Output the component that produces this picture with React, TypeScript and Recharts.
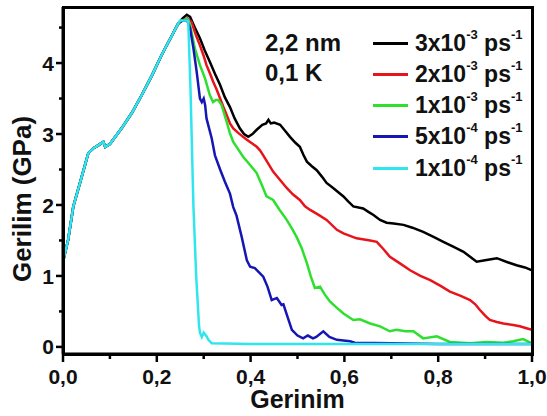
import { Legend, Line, LineChart, XAxis, YAxis } from "recharts";

type Pt = [number, number];

// shared loading branch (all rates overlap up to the peak)
const rise: Pt[] = [
  [0, 1.2], [0.011, 1.51], [0.022, 1.98], [0.04, 2.4], [0.054, 2.73], [0.065, 2.8],
  [0.075, 2.84], [0.086, 2.89], [0.09, 2.82], [0.1, 2.86], [0.125, 3.08], [0.147, 3.3],
  [0.168, 3.55], [0.19, 3.83], [0.21, 4.11], [0.23, 4.36], [0.246, 4.56],
];

const black: Pt[] = [
  [0.255, 4.63], [0.264, 4.68], [0.271, 4.65], [0.281, 4.5], [0.292, 4.35], [0.302, 4.18],
  [0.313, 4.02], [0.324, 3.85], [0.335, 3.69], [0.345, 3.52], [0.356, 3.38], [0.366, 3.22],
  [0.377, 3.08], [0.386, 3.0], [0.395, 2.96], [0.404, 3.0], [0.413, 3.06], [0.425, 3.13],
  [0.433, 3.15], [0.438, 3.2], [0.443, 3.15], [0.45, 3.16], [0.463, 3.13], [0.473, 3.05],
  [0.484, 2.96], [0.495, 2.88], [0.505, 2.82], [0.513, 2.7], [0.52, 2.61], [0.53, 2.55],
  [0.541, 2.49], [0.552, 2.4], [0.562, 2.31], [0.576, 2.24], [0.587, 2.18], [0.598, 2.12],
  [0.608, 2.05], [0.619, 1.98], [0.64, 1.95], [0.652, 1.9], [0.662, 1.86], [0.676, 1.79],
  [0.69, 1.75], [0.705, 1.74], [0.726, 1.72], [0.745, 1.68], [0.768, 1.62], [0.79, 1.55],
  [0.811, 1.48], [0.833, 1.41], [0.854, 1.34], [0.868, 1.27], [0.882, 1.2], [0.9, 1.22],
  [0.925, 1.25], [0.945, 1.2], [0.967, 1.15], [0.985, 1.12], [1.0, 1.08],
];

const red: Pt[] = [
  [0.255, 4.6], [0.265, 4.63], [0.274, 4.58], [0.283, 4.4], [0.292, 4.25], [0.3, 4.1],
  [0.306, 3.97], [0.313, 3.86], [0.32, 3.74], [0.328, 3.62], [0.335, 3.5], [0.342, 3.38],
  [0.349, 3.27], [0.356, 3.15], [0.363, 3.08], [0.373, 3.02], [0.384, 2.96], [0.392, 2.92],
  [0.405, 2.86], [0.413, 2.82], [0.42, 2.77], [0.427, 2.7], [0.438, 2.58], [0.448, 2.47],
  [0.462, 2.36], [0.477, 2.24], [0.49, 2.15], [0.505, 2.07], [0.516, 1.98], [0.527, 1.93],
  [0.545, 1.86], [0.562, 1.79], [0.584, 1.65], [0.598, 1.6], [0.626, 1.53], [0.655, 1.5],
  [0.669, 1.48], [0.683, 1.38], [0.697, 1.27], [0.72, 1.17], [0.74, 1.08], [0.762, 1.0],
  [0.783, 0.94], [0.805, 0.86], [0.825, 0.78], [0.848, 0.72], [0.868, 0.66], [0.879, 0.6],
  [0.889, 0.52], [0.9, 0.44], [0.91, 0.38], [0.925, 0.35], [0.939, 0.33], [0.96, 0.31],
  [0.974, 0.29], [0.99, 0.26], [1.0, 0.24],
];

const green: Pt[] = [
  [0.255, 4.6], [0.265, 4.62], [0.271, 4.54], [0.281, 4.21], [0.292, 3.97], [0.303, 3.78],
  [0.313, 3.55], [0.32, 3.45], [0.326, 3.48], [0.331, 3.48], [0.338, 3.41], [0.349, 3.17],
  [0.356, 3.01], [0.363, 2.89], [0.374, 2.78], [0.384, 2.68], [0.398, 2.57], [0.413, 2.45],
  [0.424, 2.28], [0.434, 2.12], [0.448, 2.07], [0.462, 1.93], [0.477, 1.79], [0.488, 1.67],
  [0.498, 1.55], [0.509, 1.39], [0.52, 1.18], [0.528, 1.0], [0.537, 0.83], [0.548, 0.85],
  [0.558, 0.74], [0.569, 0.64], [0.584, 0.55], [0.598, 0.47], [0.619, 0.38], [0.633, 0.39],
  [0.655, 0.33], [0.676, 0.29], [0.697, 0.22], [0.711, 0.24], [0.73, 0.22], [0.747, 0.22],
  [0.768, 0.12], [0.797, 0.15], [0.825, 0.07], [0.868, 0.05], [0.903, 0.07], [0.939, 0.06],
  [0.96, 0.08], [0.981, 0.11], [1.0, 0.05],
];

const blue: Pt[] = [
  [0.255, 4.6], [0.265, 4.6], [0.271, 4.49], [0.278, 4.21], [0.285, 3.88], [0.292, 3.5],
  [0.296, 3.45], [0.3, 3.5], [0.303, 3.41], [0.306, 3.22], [0.317, 2.94], [0.324, 2.7],
  [0.335, 2.5], [0.345, 2.33], [0.356, 2.16], [0.363, 1.97], [0.37, 1.85], [0.381, 1.55],
  [0.392, 1.22], [0.399, 1.13], [0.409, 1.11], [0.418, 1.05], [0.427, 0.99], [0.436, 0.85],
  [0.445, 0.66], [0.456, 0.69], [0.466, 0.59], [0.47, 0.6], [0.48, 0.4], [0.488, 0.24],
  [0.5, 0.16], [0.512, 0.12], [0.522, 0.16], [0.533, 0.12], [0.54, 0.14], [0.555, 0.22],
  [0.568, 0.14], [0.584, 0.1], [0.612, 0.08], [0.622, 0.06], [0.7, 0.05], [0.8, 0.04],
  [1.0, 0.04],
];

const cyan: Pt[] = [
  [0.25, 4.6], [0.267, 4.6], [0.272, 3.6], [0.278, 2.0], [0.284, 1.0], [0.29, 0.3],
  [0.292, 0.2], [0.296, 0.14], [0.3, 0.2], [0.306, 0.15], [0.31, 0.1], [0.317, 0.05],
  [0.4, 0.04], [1.0, 0.04],
];

const rateMantissa = ["3x10", "2x10", "1x10", "5x10", "1x10"];
const rateExponent = ["-3", "-3", "-3", "-4", "-4"];
const colors = ["#000000", "#e8141b", "#2ee02e", "#1616b4", "#30e6ee"];
const seriesPts = [black, red, green, blue, cyan];

const xTicks = [0, 0.1, 0.2, 0.3, 0.4, 0.5, 0.6, 0.7, 0.8, 0.9, 1.0];
const yTicks = [0, 0.5, 1, 1.5, 2, 2.5, 3, 3.5, 4, 4.5];
const X_DOMAIN: [number, number] = [0, 1];
const Y_DOMAIN: [number, number] = [-0.1, 4.79];

const CHART_W = 547;
const CHART_H = 416;
const TOP = 7;
const RIGHT = 15;
const Y_AXIS_W = 63;
const X_AXIS_H = 62;
const FONT = "'Liberation Sans', Arial, sans-serif";

const toRows = (pts: Pt[]) => [...rise, ...pts].map(([x, y]) => ({ x, y }));

const YTick = (props: any) => {
  const { x, y, payload } = props;
  const v = payload.value as number;
  const major = Math.abs(v - Math.round(v)) < 1e-6;
  return (
    <g>
      <line x1={x - (major ? 7 : 4)} x2={x} y1={y} y2={y} stroke="#000" strokeWidth={2.5} />
      {major && (
        <text x={x - 9} y={y} dy="0.36em" textAnchor="end" fontFamily={FONT} fontWeight="bold" fontSize={21} fill="#111">
          {v}
        </text>
      )}
    </g>
  );
};

const XTick = (props: any) => {
  const { x, y, payload } = props;
  const v = payload.value as number;
  const major = Math.round(v * 10) % 2 === 0;
  return (
    <g>
      <line x1={x} x2={x} y1={y} y2={y + (major ? 8 : 5)} stroke="#000" strokeWidth={2.5} />
      {major && (
        <text x={x} y={y + 30} textAnchor="middle" fontFamily={FONT} fontWeight="bold" fontSize={21} fill="#111">
          {v.toFixed(1).replace(".", ",")}
        </text>
      )}
    </g>
  );
};

const XTitle = (lp: any) => {
  const vb = lp.viewBox;
  return (
    <text x={vb.x + vb.width / 2} y={408} textAnchor="middle" fontFamily={FONT} fontWeight="bold" fontSize={25} fill="#111">
      Gerinim
    </text>
  );
};

// overlay: closed plot frame, sample annotation and the rate legend
const LegendBox = () => (
  <div
    style={{
      position: "relative",
      width: CHART_W,
      height: CHART_H,
      fontFamily: FONT,
      fontWeight: "bold",
      color: "#111",
      pointerEvents: "none",
    }}
  >
    <div
      style={{
        position: "absolute",
        left: Y_AXIS_W - 1.5,
        top: TOP - 1.5,
        width: CHART_W - RIGHT - Y_AXIS_W + 3,
        height: CHART_H - X_AXIS_H - TOP + 3,
        border: "3px solid #000",
        boxSizing: "border-box",
      }}
    />
    <div style={{ position: "absolute", left: 265, top: 29, fontSize: 24, lineHeight: "28px" }}>2,2 nm</div>
    <div style={{ position: "absolute", left: 265, top: 59, fontSize: 24, lineHeight: "28px" }}>0,1 K</div>
    {rateMantissa.map((m, i) => (
      <div
        key={i}
        style={{
          position: "absolute",
          left: 373,
          top: 43 + i * 31.25 - 15,
          height: 30,
          display: "flex",
          alignItems: "center",
          whiteSpace: "nowrap",
        }}
      >
        <div style={{ width: 35, height: 3, background: colors[i], marginRight: 7 }} />
        <span style={{ fontSize: 23 }}>{m}</span>
        <span style={{ fontSize: 13, position: "relative", top: -9 }}>{rateExponent[i]}</span>
        <span style={{ fontSize: 23 }}>&nbsp;ps</span>
        <span style={{ fontSize: 13, position: "relative", top: -9 }}>-1</span>
      </div>
    ))}
  </div>
);

export default function App() {
  return (
    <div style={{ position: "absolute", left: 0, top: 0, background: "#fff" }}>
      <LineChart width={CHART_W} height={CHART_H} margin={{ top: TOP, right: RIGHT, left: 0, bottom: 0 }}>
        <XAxis
          dataKey="x"
          type="number"
          domain={X_DOMAIN}
          allowDataOverflow
          ticks={xTicks}
          interval={0}
          height={X_AXIS_H}
          tickSize={0}
          tickMargin={0}
          tick={<XTick />}
          axisLine={{ stroke: "#000", strokeWidth: 3 }}
          label={{ content: XTitle }}
        />
        <YAxis
          type="number"
          domain={Y_DOMAIN}
          allowDataOverflow
          ticks={yTicks}
          interval={0}
          width={Y_AXIS_W}
          tickSize={0}
          tickMargin={0}
          tick={<YTick />}
          axisLine={{ stroke: "#000", strokeWidth: 3 }}
          label={{
            content: () => (
              <text
                x={31}
                y={199}
                transform="rotate(-90, 31, 199)"
                textAnchor="middle"
                fontFamily={FONT}
                fontWeight="bold"
                fontSize={26}
                fill="#111"
              >
                Gerilim (GPa)
              </text>
            ),
          }}
        />
        {seriesPts.map((pts, i) => (
          <Line
            key={i}
            data={toRows(pts)}
            dataKey="y"
            name={rateMantissa[i]}
            stroke={colors[i]}
            strokeWidth={2.5}
            dot={false}
            activeDot={false}
            type="linear"
            isAnimationActive={false}
          />
        ))}
        <Legend
          layout="horizontal"
          verticalAlign="middle"
          align="center"
          content={<LegendBox />}
          wrapperStyle={{ position: "absolute", left: 0, top: 0, width: CHART_W, height: CHART_H, margin: 0 }}
        />
      </LineChart>
    </div>
  );
}
